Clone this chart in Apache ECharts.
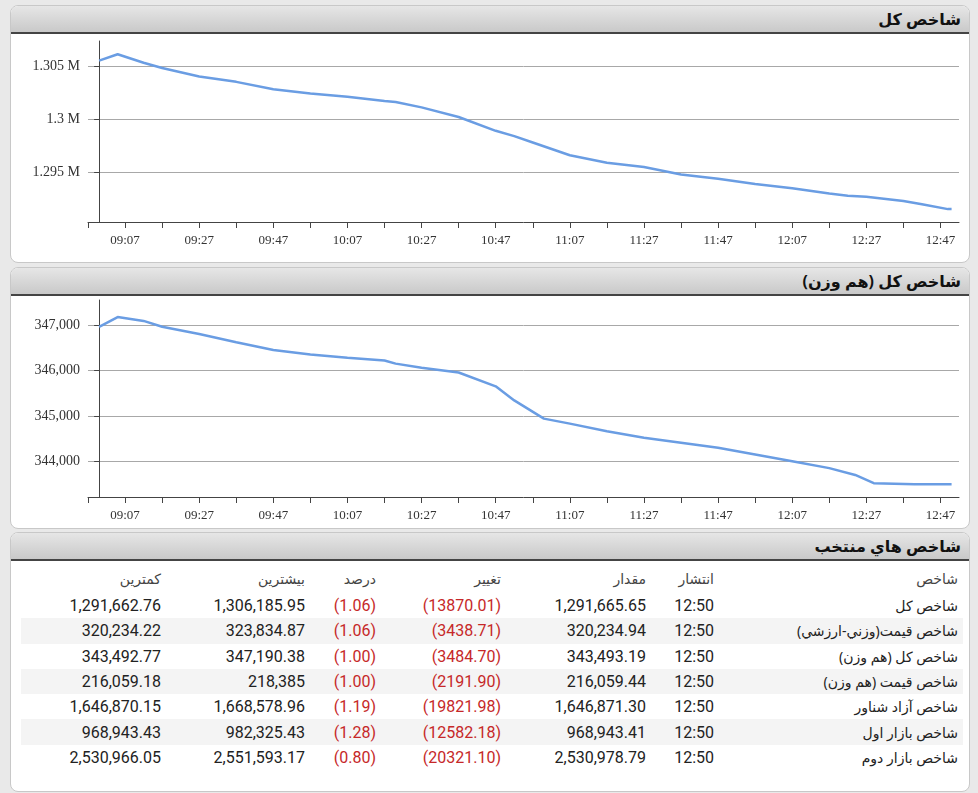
<!DOCTYPE html>
<html><head><meta charset="utf-8">
<script src="https://cdn.jsdelivr.net/npm/echarts@6/dist/echarts.min.js"></script>
<style>
body{margin:0;width:978px;height:793px;background:#e9e9e9;font-family:"Liberation Sans Narrow",Roboto,"Noto Sans",sans-serif;overflow:hidden;position:relative}
.panel{position:absolute;left:10px;width:958px;background:#fff;border:1px solid #c8c8c8;border-radius:8px;overflow:hidden}
.head{height:26px;background:linear-gradient(#e6e6e6,#c9c9c9);border-bottom:2px solid #444;direction:rtl;text-align:right;padding-right:8px;font:bold 16px "Noto Sans","DejaVu Sans",sans-serif;line-height:26px;color:#111}
.chart{position:absolute;left:0;width:958px}
table{position:absolute;left:10px;top:30px;width:942px;border-collapse:collapse;table-layout:fixed;direction:rtl;font-size:16px;color:#222}
td,th{text-align:right;padding:0 5px 0 0;height:25.3px;white-space:nowrap;font-weight:normal;overflow:hidden}
th{color:#444;height:30px}
tbody tr:nth-child(even){background:#f4f4f4}
.neg{color:#c62828}
.name{font-family:"Noto Sans","DejaVu Sans",sans-serif;font-size:14px}
</style></head><body>
<div class="panel" style="top:5px;height:256px"><div class="head">شاخص کل</div><div id="c1" class="chart" style="top:29px;height:227px"></div></div>
<div class="panel" style="top:267px;height:260px"><div class="head">شاخص کل (هم وزن)</div><div id="c2" class="chart" style="top:29px;height:231px"></div></div>
<div class="panel" style="top:532px;height:258px"><div class="head">شاخص هاي منتخب</div><div id="tbl"></div></div>
<script>
// minutes since 09:00
var times = [0, 5, 12, 17, 27, 37, 47, 57, 67, 77, 80, 87, 97, 107, 112, 117, 127, 137, 147, 157, 167, 177, 187, 197, 202, 207, 217, 222, 229, 240, 250];
var totalIdx = [1305500, 1306100, 1305300, 1304800, 1304000, 1303500, 1302800, 1302400, 1302100, 1301700, 1301600, 1301100, 1300200, 1298900, 1298400, 1297800, 1296600, 1295900, 1295500, 1294800, 1294400, 1293900, 1293500, 1293000, 1292800, 1292700, 1292300, 1292000, 1291540, 1291540, 1291540];
var timesEq = [0, 5, 12, 17, 27, 37, 47, 57, 67, 77, 80, 87, 97, 107, 112, 120, 127, 137, 147, 157, 167, 177, 187, 197, 204, 209, 220, 230, 250];
var equalIdx = [346960, 347175, 347090, 346960, 346800, 346620, 346450, 346350, 346280, 346220, 346150, 346060, 345955, 345650, 345340, 344940, 344830, 344660, 344520, 344410, 344300, 344150, 344000, 343850, 343700, 343520, 343493, 343493, 343493];
var xTicks = [-3, 7, 17, 27, 37, 47, 57, 67, 77, 87, 97, 107, 117, 127, 137, 147, 157, 167, 177, 187, 197, 207, 217, 227];
var xLabels = [7, 27, 47, 67, 87, 107, 127, 147, 167, 187, 207, 227];

var headers = ['شاخص', 'انتشار', 'مقدار', 'تغییر', 'درصد', 'بیشترین', 'کمترین'];
var names = ['شاخص کل', 'شاخص قیمت(وزني-ارزشي)', 'شاخص کل (هم وزن)', 'شاخص قیمت (هم وزن)', 'شاخص آزاد شناور', 'شاخص بازار اول', 'شاخص بازار دوم'];
var published = ['12:50', '12:50', '12:50', '12:50', '12:50', '12:50', '12:50'];
var values = ['1,291,665.65', '320,234.94', '343,493.19', '216,059.44', '1,646,871.30', '968,943.41', '2,530,978.79'];
var changes = ['(13870.01)', '(3438.71)', '(3484.70)', '(2191.90)', '(19821.98)', '(12582.18)', '(20321.10)'];
var percents = ['(1.06)', '(1.06)', '(1.00)', '(1.00)', '(1.19)', '(1.28)', '(0.80)'];
var highs = ['1,306,185.95', '323,834.87', '347,190.38', '218,385', '1,668,578.96', '982,325.43', '2,551,593.17'];
var lows = ['1,291,662.76', '320,234.22', '343,492.77', '216,059.18', '1,646,870.15', '968,943.43', '2,530,966.05'];

function hhmm(m) {
    var t = 9 * 60 + m, h = Math.floor(t / 60), mm = t % 60;
    return (h < 10 ? '0' : '') + h + ':' + (mm < 10 ? '0' : '') + mm;
}
function pairs(xs, ys) { return xs.map(function (x, i) { return [Math.min(x, 230), ys[i]]; }); }

function makeChart(id, xs, ys, yMin, yMax, yTicks, yFmt, gridBottom, gridTop) {
    var chart = echarts.init(document.getElementById(id));
    chart.setOption({
        animation: false,
        grid: {left: 77, right: 10, top: gridTop, bottom: gridBottom, containLabel: false, outerBoundsMode: 'none'},
        xAxis: {
            type: 'value', min: -3, max: 232,
            axisLine: {lineStyle: {color: '#444'}},
            axisTick: {customValues: xTicks, length: 6, lineStyle: {color: '#444'}},
            axisLabel: {customValues: xLabels, formatter: hhmm, color: '#333', fontSize: 13, margin: 12, fontFamily: 'Liberation Sans Narrow'},
            splitLine: {show: false}
        },
        yAxis: {
            type: 'value', min: yMin, max: yMax,
            axisLine: {show: true, lineStyle: {color: '#444'}},
            axisTick: {show: true, customValues: yTicks, length: 5, lineStyle: {color: '#444'}},
            axisLabel: {customValues: yTicks, formatter: yFmt, color: '#333', fontSize: 14, fontFamily: 'Liberation Sans Narrow'},
            splitLine: {show: true, lineStyle: {color: '#a8a8a8', width: 1}}
        },
        series: [{
            type: 'line', data: pairs(xs, ys), showSymbol: false,
            lineStyle: {color: '#6a9de3', width: 2.5}
        }]
    });
}

makeChart('c1', times, totalIdx, 1290330, 1307340, [1295000, 1300000, 1305000],
    function (v) { return (v / 1e6) + ' M'; }, 40, 6);
makeChart('c2', timesEq, equalIdx, 343215, 347550, [344000, 345000, 346000, 347000],
    function (v) { return v.toLocaleString('en-US'); }, 31, 3);

// table
var widths = [244, 68, 145, 125, 71, 144, 145];
var html = '<table><colgroup>' + widths.map(function (w) { return '<col style="width:' + w + 'px">'; }).join('') + '</colgroup><thead><tr>';
headers.forEach(function (h) { html += '<th class="name">' + h + '</th>'; });
html += '</tr></thead><tbody>';
for (var i = 0; i < names.length; i++) {
    html += '<tr><td class="name">' + names[i] + '</td><td>' + published[i] + '</td><td>' + values[i] +
        '</td><td class="neg">' + changes[i] + '</td><td class="neg">' + percents[i] + '</td><td>' + highs[i] +
        '</td><td>' + lows[i] + '</td></tr>';
}
html += '</tbody></table>';
document.getElementById('tbl').innerHTML = html;
</script>
</body></html>
